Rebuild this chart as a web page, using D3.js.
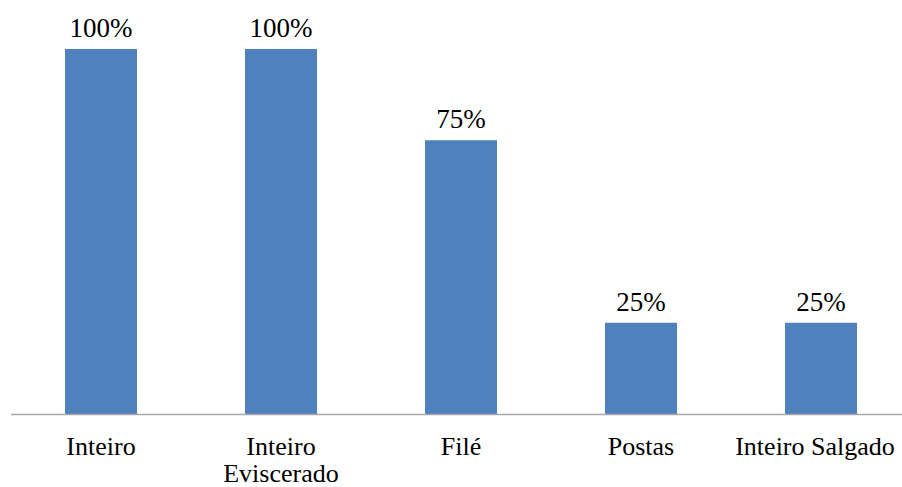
<!DOCTYPE html>
<html><head><meta charset="utf-8">
<script src="https://cdn.jsdelivr.net/npm/d3@7"></script>
<style>body{margin:0;background:#fff}svg{display:block}</style>
</head><body>
<svg id="c" width="902" height="487"></svg>
<script>
const categories = [["Inteiro"], ["Inteiro", "Eviscerado"], ["Filé"], ["Postas"], ["Inteiro Salgado"]];
const values = [1.00, 1.00, 0.75, 0.25, 0.25];
const valueLabels = ["100%", "100%", "75%", "25%", "25%"];

const svg = d3.select("#c");
const font = "'Liberation Serif', 'Times New Roman', serif";
const x = d3.scaleBand().domain(d3.range(categories.length)).range([11, 911]).paddingInner(0.6).paddingOuter(0.3);
const y = d3.scaleLinear().domain([0, 1]).range([414, 49]);

svg.selectAll("rect.bar").data(values).join("rect")
  .attr("x", (d,i) => x(i)).attr("width", x.bandwidth())
  .attr("y", d => y(d)).attr("height", d => y(0) - y(d))
  .attr("fill", "#4F81BD");

svg.append("line").attr("x1", 11).attr("x2", 902).attr("y1", y(0)+0.5).attr("y2", y(0)+0.5)
  .attr("stroke", "#A6A6A6").attr("stroke-width", 1.5);

svg.selectAll("text.val").data(values).join("text")
  .attr("x", (d,i) => x(i) + x.bandwidth()/2).attr("y", d => y(d) - 12)
  .attr("text-anchor", "middle").attr("font-family", font).attr("font-size", 27).attr("fill", "#000")
  .text((d,i) => valueLabels[i]);

const cat = svg.selectAll("text.cat").data(categories).join("text")
  .attr("text-anchor", "middle").attr("font-family", font).attr("font-size", 26).attr("fill", "#000");
cat.each(function(lines, i) {
  const cx = Math.min(x(i) + x.bandwidth()/2, 815);
  d3.select(this).selectAll("tspan").data(lines).join("tspan")
    .attr("x", cx).attr("y", (l, j) => 455 + j*27).text(l => l);
});
</script>
</body></html>
